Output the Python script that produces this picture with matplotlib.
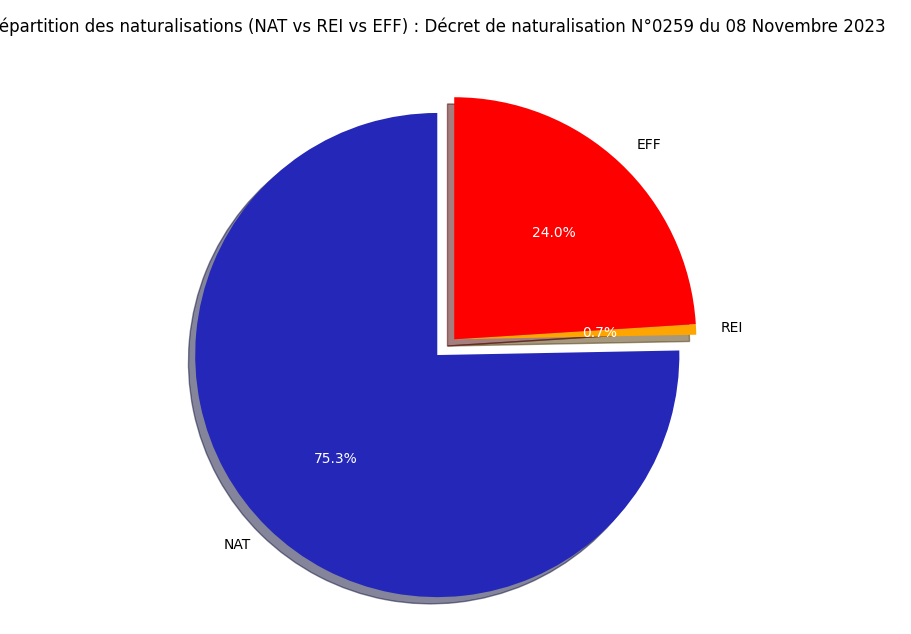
import matplotlib
matplotlib.use("Agg")
import matplotlib.pyplot as plt

labels = ["NAT", "REI", "EFF"]
values = [75.3, 0.7, 24.0]
colors = ["#2427b8", "#ffa500", "#ff0000"]

fig, ax = plt.subplots(figsize=(9.11, 6.34), dpi=100)
wedges, texts, autotexts = ax.pie(values, labels=labels, colors=colors, autopct="%1.1f%%",
                                  startangle=90, shadow=True)
dx, dy = 0.07, 0.065
for i in (1, 2):
    wedges[i].set_center((dx, dy))
    for t in (texts[i], autotexts[i]):
        x, y = t.get_position()
        t.set_position((x + dx, y + dy))
for t in autotexts:
    t.set_color("white")
ax.set_title("Répartition des naturalisations (NAT vs REI vs EFF) : Décret de naturalisation N°0259 du 08 Novembre 2023", y=1.09)
ax.axis("equal")
plt.subplots_adjust(left=-0.02, right=0.98, top=0.86, bottom=0.02)
fig.savefig("out.png")
